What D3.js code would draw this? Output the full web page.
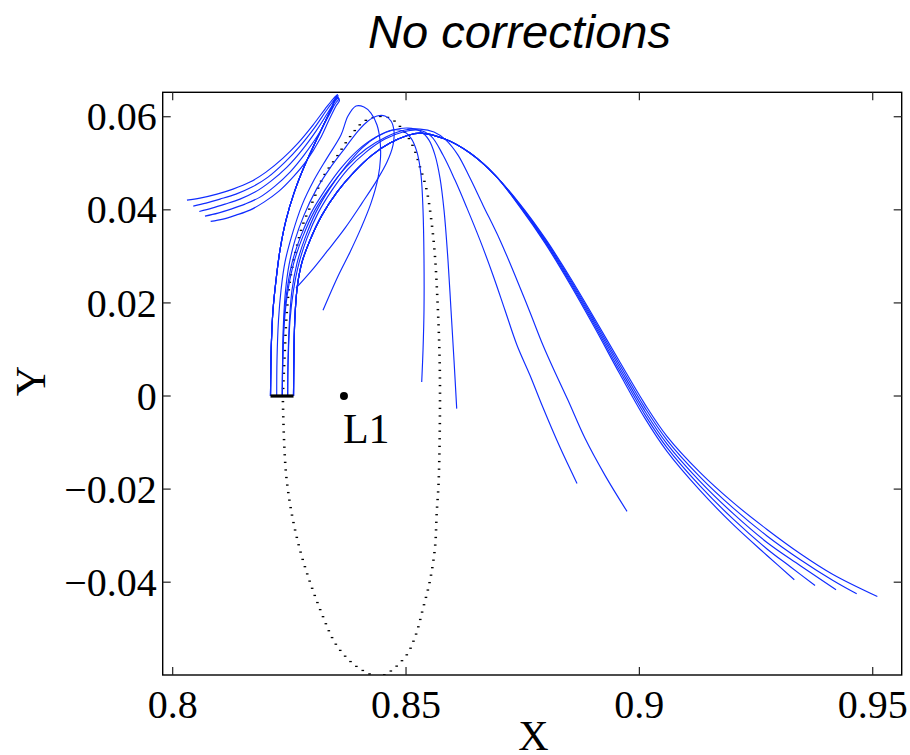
<!DOCTYPE html>
<html><head><meta charset="utf-8">
<script src="https://cdn.jsdelivr.net/npm/d3@7"></script>
<style>body{margin:0;background:#fff}svg{display:block}</style>
</head><body><svg id="c" width="910" height="755"></svg>
<script>
// ---------------- data ----------------
const titleText = "No corrections";
const xLabel = "X", yLabel = "Y";
const xTicks = [0.8, 0.85, 0.9, 0.95];
const xTickLabels = ["0.8", "0.85", "0.9", "0.95"];
const yTicks = [-0.04, -0.02, 0, 0.02, 0.04, 0.06];
const yTickLabels = ["\u22120.04", "\u22120.02", "0", "0.02", "0.04", "0.06"];
const xDomain = [0.79786, 0.95621];
const yDomain = [-0.05994, 0.06525];

const L1point = [0.8367, 0];
const L1name = "L1";
const initBar = [[0.82096, 0], [0.82589, 0]];

// nominal periodic orbit (dotted)
const orbit = [[0.8236,0],[0.82406,0.0105],[0.82443,0.0177],[0.82514,0.0249],[0.82657,0.0320],[0.82799,0.0371],
 [0.83013,0.0421],[0.83227,0.0471],[0.83514,0.0514],[0.83799,0.0557],[0.84084,0.0589],[0.84371,0.0600],
 [0.84656,0.0597],[0.84941,0.0571],[0.85156,0.0535],[0.85299,0.0492],[0.85443,0.0442],[0.85550,0.0371],
 [0.85621,0.0299],[0.85670,0.0213],[0.85713,0.0105],[0.85728,0],[0.85700,-0.0181],[0.85657,-0.0252],
 [0.85621,-0.0325],[0.85514,-0.0396],[0.8537,-0.0454],[0.85192,-0.0518],[0.84978,-0.0561],[0.84464,-0.0601],
 [0.84014,-0.0586],[0.83542,-0.0540],[0.83193,-0.0467],[0.82713,-0.0325],[0.82443,-0.0181],[0.8236,0]];

// trajectories bending back to the left
const ascentL = [[0.82096,0],[0.82102,0.005527],[0.82117,0.011978],[0.82149,0.01843],[0.82214,0.024881],[0.82299,0.031333],
 [0.82428,0.037784],[0.82599,0.043591],[0.82814,0.049182],[0.83049,0.054343],[0.83264,0.058859],[0.83414,0.062085],[0.83499,0.064021]];
const trajL1 = ascentL.concat([[0.83531,0.064773],[0.83435,0.063805],[0.83264,0.061655],[0.83006,0.058214],[0.82685,0.054343],
 [0.82364,0.051117],[0.81999,0.048107],[0.81656,0.045956],[0.81292,0.044451],[0.80949,0.043376],[0.80585,0.042515],[0.80306,0.042085]]);
const trajL2 = ascentL.concat([[0.83542,0.064558],[0.83456,0.06359],[0.83285,0.061225],[0.83049,0.057784],[0.82728,0.053698],
 [0.82406,0.050257],[0.82042,0.047031],[0.81699,0.044881],[0.81356,0.043376],[0.81014,0.0423],[0.80714,0.04144],[0.80441,0.040795]]);
const trajL3 = ascentL.concat([[0.83553,0.064235],[0.83467,0.06316],[0.83306,0.06058],[0.83071,0.056922],[0.82771,0.052838],
 [0.82449,0.049182],[0.82106,0.046171],[0.81764,0.043806],[0.81442,0.0423],[0.81121,0.041225],[0.80842,0.040365],[0.8057,0.039655]]);
const trajL4 = ascentL.concat([[0.83564,0.063913],[0.83478,0.06273],[0.83328,0.059934],[0.83114,0.056063],[0.82814,0.051763],
 [0.82514,0.048107],[0.82192,0.045096],[0.81871,0.04273],[0.81549,0.041225],[0.81249,0.04015],[0.80971,0.03929],[0.80692,0.038645]]);
const trajL5 = ascentL.concat([[0.83574,0.06359],[0.83499,0.0623],[0.83349,0.059289],[0.83156,0.055203],[0.82878,0.050687],
 [0.82578,0.047031],[0.82278,0.04402],[0.81956,0.041655],[0.81656,0.039935],[0.81356,0.038859],[0.81078,0.037999],[0.80814,0.037505]]);

// trajectories escaping to the right
const ascentR = [[0.82589,0],[0.82599,0.009828],[0.82621,0.017355],[0.82674,0.023806],[0.82771,0.028752],[0.82942,0.033483],
 [0.83199,0.038859],[0.83521,0.043806],[0.83885,0.048107],[0.84271,0.051763],[0.84656,0.054343],[0.84999,0.055848],
 [0.85299,0.056494],[0.85835,0.055203],[0.86371,0.052193],[0.86906,0.047462]];
const trajR1 = ascentR.concat([[0.87442,0.041225],[0.87978,0.033913],[0.88514,0.025526],[0.89049,0.016494],[0.89585,0.007247],
 [0.90121,-0.001785],[0.90592,-0.008667],[0.91299,-0.016408],[0.92006,-0.02286],[0.92735,-0.028666],[0.93442,-0.033827],
 [0.94149,-0.038343],[0.95099,-0.043075]]);
const trajR2 = ascentR.concat([[0.87442,0.041064],[0.87978,0.033645],[0.88514,0.02515],[0.89049,0.01601],[0.89585,0.006602],
 [0.90121,-0.002538],[0.90592,-0.009473],[0.91299,-0.017376],[0.92006,-0.024043],[0.92735,-0.030064],[0.93442,-0.035118],
 [0.94149,-0.039634],[0.94657,-0.042494]]);
const trajR3 = ascentR.concat([[0.87442,0.040903],[0.87978,0.033376],[0.88514,0.024774],[0.89049,0.015527],[0.89585,0.005957],
 [0.90121,-0.00329],[0.90592,-0.010279],[0.91299,-0.018344],[0.92006,-0.025225],[0.92735,-0.031462],[0.93442,-0.036408],
 [0.94214,-0.041634]]);
const trajR4 = ascentR.concat([[0.87442,0.040742],[0.87978,0.033107],[0.88514,0.024397],[0.89049,0.015043],[0.89585,0.005312],
 [0.90121,-0.004043],[0.90592,-0.011086],[0.91299,-0.019311],[0.92006,-0.026408],[0.92735,-0.03286],[0.93228,-0.036623],
 [0.93764,-0.040709]]);
const trajR5 = ascentR.concat([[0.87442,0.04058],[0.87978,0.032838],[0.88514,0.024021],[0.89049,0.014559],[0.89585,0.004667],
 [0.90121,-0.004796],[0.90592,-0.011892],[0.91299,-0.020279],[0.92006,-0.027591],[0.92735,-0.034257],[0.9332,-0.039483]]);

// intermediate trajectories
const trajM1 = [[0.82229,0],[0.82235,0.007677],[0.82267,0.016279],[0.82321,0.022731],[0.82406,0.028752],[0.82556,0.034559],
 [0.82771,0.04101],[0.83028,0.046386],[0.83306,0.051117],[0.83606,0.056063],[0.83756,0.060149],[0.83928,0.0623],
 [0.84099,0.062085],[0.84249,0.060795],[0.84378,0.058214],[0.84442,0.054988],[0.84453,0.051117],[0.84399,0.046816],
 [0.84249,0.04144],[0.84035,0.036064],[0.83799,0.030903],[0.83542,0.025741],[0.83221,0.01843]];
const trajM2 = [[0.82349,0],[0.82355,0.007677],[0.82376,0.016279],[0.82419,0.022731],[0.82492,0.028107],[0.82621,0.033483],
 [0.82814,0.038859],[0.83071,0.044236],[0.83371,0.048967],[0.83692,0.053268],[0.83971,0.056922],[0.84185,0.059074],
 [0.84378,0.060149],[0.84549,0.060149],[0.84678,0.059074],[0.84742,0.056922],[0.84721,0.053913],[0.84592,0.050257],
 [0.84378,0.046386],[0.84056,0.04144],[0.83692,0.036064],[0.83328,0.031333],[0.82985,0.027032],[0.82642,0.023161]];
const trajM3 = [[0.82464,0],[0.82471,0.007677],[0.82503,0.016279],[0.82556,0.022731],[0.82664,0.028537],[0.82835,0.033913],
 [0.83071,0.039505],[0.83371,0.044666],[0.83714,0.049397],[0.84056,0.053268],[0.84399,0.055848],[0.84699,0.057139],
 [0.84935,0.056922],[0.85106,0.055418],[0.85235,0.052408],[0.85321,0.047462],[0.85364,0.039935],[0.85385,0.029182],
 [0.85385,0.01843],[0.85364,0.009828],[0.85336,0.003011]];
const trajM4 = [[0.82349,0],[0.82357,0.007677],[0.82385,0.016279],[0.82449,0.022731],[0.82556,0.028537],[0.82728,0.033913],
 [0.82964,0.03929],[0.83264,0.044236],[0.83606,0.048967],[0.83971,0.052838],[0.84356,0.055633],[0.84721,0.057139],
 [0.85042,0.057569],[0.85299,0.056922],[0.85492,0.054988],[0.85621,0.051763],[0.85728,0.046816],[0.85814,0.039935],
 [0.85899,0.029182],[0.85964,0.01843],[0.86028,0.007677],[0.86086,-0.00271]];
const trajM5 = [[0.82464,0],[0.82475,0.007677],[0.82514,0.016279],[0.82589,0.022731],[0.82706,0.028537],[0.82878,0.033913],
 [0.83114,0.03929],[0.83414,0.044236],[0.83756,0.048752],[0.84142,0.052408],[0.84549,0.055203],[0.84935,0.056709],
 [0.85256,0.057139],[0.85535,0.055848],[0.85792,0.051763],[0.86049,0.046386],[0.86306,0.040365],[0.86585,0.033483],
 [0.86864,0.025956],[0.87121,0.01843],[0.87378,0.010903],[0.87656,0.004452],[0.87914,-0.002],[0.88299,-0.011032],[0.88664,-0.018774]];
const trajM6 = [[0.82349,0],[0.82359,0.007677],[0.82396,0.016279],[0.82471,0.022731],[0.82599,0.028752],[0.82792,0.034343],
 [0.83049,0.039935],[0.83371,0.044881],[0.83735,0.049397],[0.84142,0.053053],[0.84571,0.055633],[0.84978,0.057139],
 [0.85299,0.057354],[0.85599,0.056709],[0.85856,0.054988],[0.86114,0.051763],[0.86371,0.046816],[0.86649,0.04101],
 [0.87014,0.033483],[0.87378,0.024881],[0.87656,0.018],[0.87935,0.010903],[0.88192,0.005097],[0.88471,-0.000925],
 [0.88835,-0.009097],[0.89264,-0.017053],[0.89735,-0.024795]];

const trajectories = [trajL1,trajL2,trajL3,trajL4,trajL5,trajR1,trajR2,trajR3,trajR4,trajR5,trajM1,trajM2,trajM3,trajM4,trajM5,trajM6];

// ---------------- drawing ----------------
(function () {
const svg = d3.select("#c");
const pL = 162.7, pR = 901.7, pT = 92.3, pB = 675;
const x = d3.scaleLinear().domain(xDomain).range([pL, pR]);
const y = d3.scaleLinear().domain(yDomain).range([pB, pT]);

svg.append("defs").append("clipPath").attr("id","clip")
  .append("rect").attr("x",pL).attr("y",pT).attr("width",pR-pL).attr("height",pB-pT);

const plot = svg.append("g").attr("clip-path","url(#clip)");
const line = d3.line().x(d=>x(d[0])).y(d=>y(d[1])).curve(d3.curveCatmullRom.alpha(0.5));

// dotted nominal orbit: sampled along the path as small dash marks
const guide = plot.append("path").attr("d", line(orbit)).attr("fill","none").attr("stroke","none");
const gn = guide.node(), total = gn.getTotalLength();
const dots = d3.range(0, total, 7.6).map(s => gn.getPointAtLength(s));
plot.append("g").selectAll("rect").data(dots).join("rect")
  .attr("x", p => p.x - 1.3).attr("y", p => p.y - 0.6)
  .attr("width", 2.6).attr("height", 1.3).attr("fill", "#000");

// trajectories
plot.append("g").selectAll("path").data(trajectories).join("path")
  .attr("d", line).attr("fill","none").attr("stroke","#0f2cff").attr("stroke-width",1.15);

// initial-condition bar
plot.append("path").attr("d", d3.line().x(d=>x(d[0])).y(d=>y(d[1]))(initBar))
  .attr("stroke","#000").attr("stroke-width",3.2).attr("fill","none");

// L1
const serif = "'Liberation Serif','Times New Roman',serif";
plot.append("circle").attr("cx", x(L1point[0])).attr("cy", y(L1point[1])).attr("r", 4).attr("fill","#000");
svg.append("text").attr("x", x(L1point[0]) - 1).attr("y", y(L1point[1]) + 47)
  .attr("font-family", serif).attr("font-size",42).text(L1name);

// frame
svg.append("rect").attr("x",pL).attr("y",pT).attr("width",pR-pL).attr("height",pB-pT)
  .attr("fill","none").attr("stroke","#000").attr("stroke-width",1.4);

const tl = 8;
const tg = svg.append("g").attr("stroke","#222").attr("stroke-width",1.2);
xTicks.forEach(t => {
  tg.append("line").attr("x1",x(t)).attr("x2",x(t)).attr("y1",pB).attr("y2",pB-tl);
  tg.append("line").attr("x1",x(t)).attr("x2",x(t)).attr("y1",pT).attr("y2",pT+tl);
});
yTicks.forEach(t => {
  tg.append("line").attr("y1",y(t)).attr("y2",y(t)).attr("x1",pL).attr("x2",pL+tl);
  tg.append("line").attr("y1",y(t)).attr("y2",y(t)).attr("x1",pR).attr("x2",pR-tl);
});

svg.append("g").selectAll("text").data(xTicks).join("text")
  .attr("x", d => x(d)).attr("y", pB + 42.5).attr("text-anchor","middle")
  .attr("font-family", serif).attr("font-size", 40).text((d,i) => xTickLabels[i]);
svg.append("g").selectAll("text").data(yTicks).join("text")
  .attr("x", pL - 6).attr("y", d => y(d) + 13.6).attr("text-anchor","end")
  .attr("font-family", serif).attr("font-size", 40).text((d,i) => yTickLabels[i]);

svg.append("text").attr("x", 533.5).attr("y", 750).attr("text-anchor","middle")
  .attr("font-family", serif).attr("font-size", 42).text(xLabel);
svg.append("text").attr("transform","translate(44.5,381) rotate(-90)").attr("text-anchor","middle")
  .attr("font-family", serif).attr("font-size", 42).text(yLabel);

svg.append("text").attr("x", 519.5).attr("y", 47.5).attr("text-anchor","middle")
  .attr("font-family","'Liberation Sans',Arial,Helvetica,sans-serif").attr("font-style","italic")
  .attr("font-size", 47).text(titleText);
})();
</script></body></html>
